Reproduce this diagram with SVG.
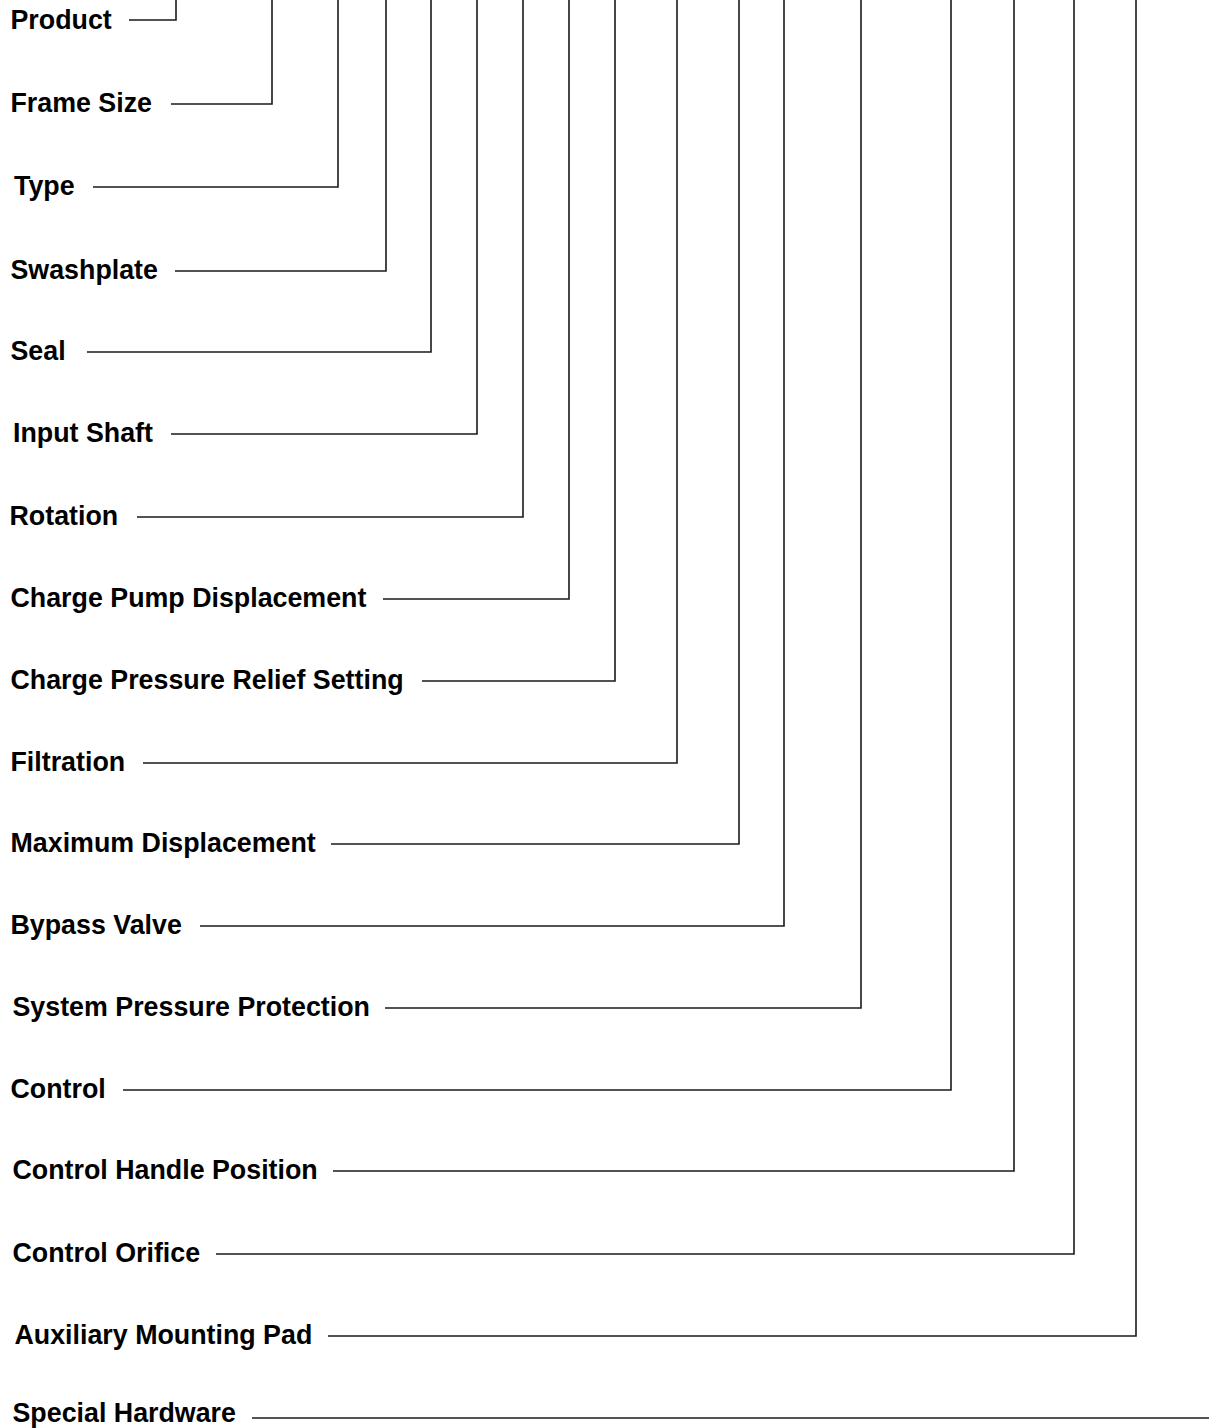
<svg xmlns="http://www.w3.org/2000/svg" width="1209" height="1428" viewBox="0 0 1209 1428">
<style>
.lbl{font-family:"Liberation Sans",Arial,sans-serif;font-weight:bold;font-size:26.8px;fill:#000}
.c{fill:none;stroke:#1a1a1a;stroke-width:1.6}
</style>
<rect width="1209" height="1428" fill="#fff"/>
<g id="n-product"><text class="lbl" x="10.5" y="28.5">Product</text></g>
<g id="n-frame-size"><text class="lbl" x="10.5" y="112">Frame Size</text></g>
<g id="n-type"><text class="lbl" x="14" y="195">Type</text></g>
<g id="n-swashplate"><text class="lbl" x="10.5" y="279">Swashplate</text></g>
<g id="n-seal"><text class="lbl" x="10.5" y="360">Seal</text></g>
<g id="n-input-shaft"><text class="lbl" x="13" y="442">Input Shaft</text></g>
<g id="n-rotation"><text class="lbl" x="9.5" y="525">Rotation</text></g>
<g id="n-charge-pump"><text class="lbl" x="10.5" y="607">Charge Pump Displacement</text></g>
<g id="n-charge-pressure"><text class="lbl" x="10.5" y="689">Charge Pressure Relief Setting</text></g>
<g id="n-filtration"><text class="lbl" x="10.5" y="771">Filtration</text></g>
<g id="n-max-disp"><text class="lbl" x="10.5" y="852">Maximum Displacement</text></g>
<g id="n-bypass"><text class="lbl" x="10.5" y="934">Bypass Valve</text></g>
<g id="n-system-pressure"><text class="lbl" x="12.5" y="1016">System Pressure Protection</text></g>
<g id="n-control"><text class="lbl" x="10.5" y="1098">Control</text></g>
<g id="n-control-handle"><text class="lbl" x="12.5" y="1179">Control Handle Position</text></g>
<g id="n-control-orifice"><text class="lbl" x="12.5" y="1262">Control Orifice</text></g>
<g id="n-aux-pad"><text class="lbl" x="14.5" y="1344">Auxiliary Mounting Pad</text></g>
<g id="n-special-hw"><text class="lbl" x="12.5" y="1422">Special Hardware</text></g>
<g id="connectors">
<path class="c" d="M129 20H176V0"/>
<path class="c" d="M171 104H272V0"/>
<path class="c" d="M93 187H338V0"/>
<path class="c" d="M175 271H386V0"/>
<path class="c" d="M87 352H431V0"/>
<path class="c" d="M171 434H477V0"/>
<path class="c" d="M137 517H523V0"/>
<path class="c" d="M383 599H569V0"/>
<path class="c" d="M422 681H615V0"/>
<path class="c" d="M143 763H677V0"/>
<path class="c" d="M331 844H739V0"/>
<path class="c" d="M200 926H784V0"/>
<path class="c" d="M385 1008H861V0"/>
<path class="c" d="M123 1090H951V0"/>
<path class="c" d="M333 1171H1014V0"/>
<path class="c" d="M216 1254H1074V0"/>
<path class="c" d="M328 1336H1136V0"/>
<path class="c" d="M252 1418H1209"/>
</g>
</svg>
